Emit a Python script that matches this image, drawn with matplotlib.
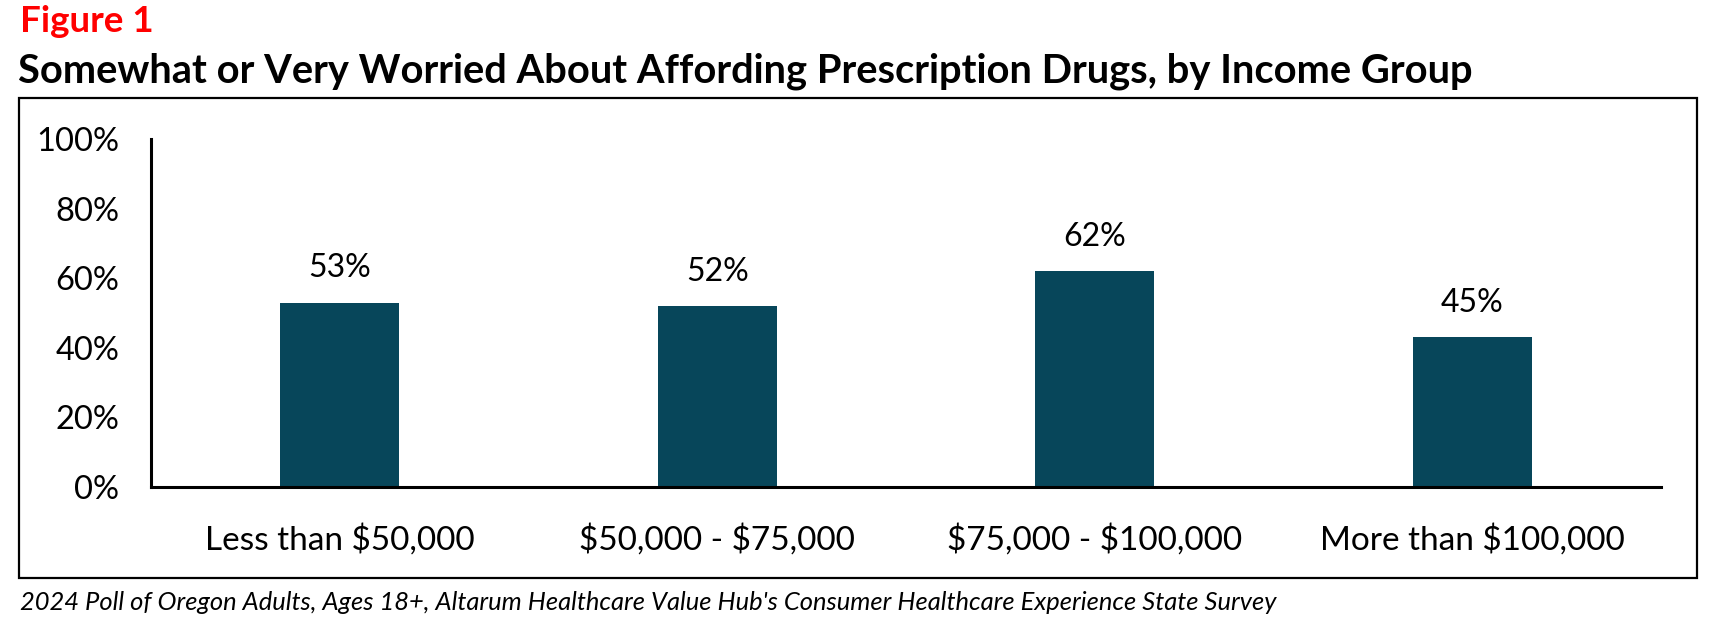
import matplotlib.pyplot as plt
from matplotlib.patches import Rectangle

categories = ["Less than $50,000", "$50,000 - $75,000", "$75,000 - $100,000", "More than $100,000"]
values = [53, 52, 62, 43]
value_labels = ["53%", "52%", "62%", "45%"]
yticks = [0, 20, 40, 60, 80, 100]

plt.rcParams["font.family"] = ["Lato", "DejaVu Sans"]
plt.rcParams["text.parse_math"] = False

W, H = 1721, 623
fig = plt.figure(figsize=(W / 100, H / 100), dpi=100)

ax = fig.add_axes([151 / W, 1 - 487 / H, (1661 - 151) / W, (487 - 139) / H])
x = range(len(categories))
bars = ax.bar(x, values, width=0.315, color="#07465A")
for b, lab in zip(bars, value_labels):
    ax.annotate(lab, (b.get_x() + b.get_width() / 2, b.get_height()),
                xytext=(0, 14), textcoords="offset points",
                ha="center", va="bottom", fontsize=23)

ax.set_xlim(-0.5, 3.5)
ax.set_ylim(0, 100)
ax.set_yticks(yticks)
ax.set_yticklabels([f"{t}%" for t in yticks], fontsize=23.5)
ax.set_xticks(list(x))
ax.set_xticklabels(categories, fontsize=24)
ax.tick_params(axis="y", length=0, pad=23)
ax.tick_params(axis="x", length=0, pad=26)
for s in ["top", "right"]:
    ax.spines[s].set_visible(False)
for s in ["left", "bottom"]:
    ax.spines[s].set_linewidth(2.2)

# frame around chart area
fig.patches.append(Rectangle((19 / W, 1 - 578 / H), (1697 - 19) / W, (578 - 98) / H,
                             transform=fig.transFigure, fill=False, lw=1.6,
                             edgecolor="black"))

fig.text(20 / W, 1 - 22 / H, "Figure 1", color="#FF0000", fontsize=26.5,
         va="center", ha="left", fontweight="bold")
fig.text(18 / W, 1 - 71 / H,
         "Somewhat or Very Worried About Affording Prescription Drugs, by Income Group",
         fontsize=28.7, va="center", ha="left", fontweight="bold")
fig.text(20 / W, 1 - 602 / H,
         "2024 Poll of Oregon Adults, Ages 18+, Altarum Healthcare Value Hub's Consumer Healthcare Experience State Survey",
         fontsize=18.4, style="italic", va="center", ha="left")

fig.savefig("out.png", dpi=100)
